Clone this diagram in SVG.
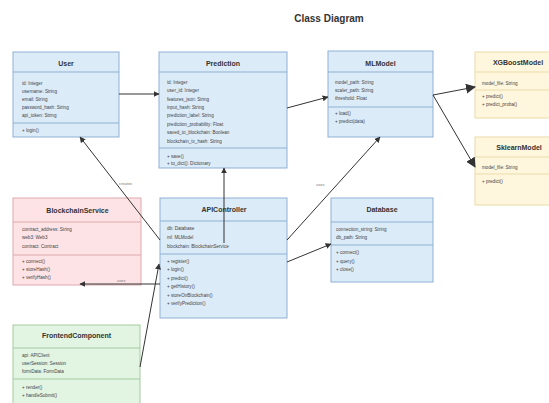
<svg xmlns="http://www.w3.org/2000/svg" width="549" height="403" viewBox="0 0 549 403">
  <defs>
    <marker id="arrow" viewBox="0 0 10 10" refX="9" refY="5" markerWidth="6" markerHeight="6" orient="auto-start-reverse" markerUnits="userSpaceOnUse">
      <path d="M0,0 L10,5 L0,10 Z" fill="#333"/>
    </marker>
    <marker id="arrowBig" viewBox="0 0 10 10" refX="9" refY="5" markerWidth="10" markerHeight="10" orient="auto" markerUnits="userSpaceOnUse">
      <path d="M0,0 L10,5 L0,10 Z" fill="#333"/>
    </marker>
  </defs>
  <style>
    .blue rect { fill: #dcebf8; stroke: #8eb1d4; stroke-width: 1; }
    .blue line { stroke: #8eb1d4; stroke-width: 1; }
    .pink rect { fill: #fde3e5; stroke: #dba9ad; stroke-width: 1; }
    .pink line { stroke: #dba9ad; stroke-width: 1; }
    .green rect { fill: #e2f4e2; stroke: #a3cba0; stroke-width: 1; }
    .green line { stroke: #a3cba0; stroke-width: 1; }
    .yellow rect { fill: #fef6dd; stroke: #eadca8; stroke-width: 1; }
    .yellow line { stroke: #eadca8; stroke-width: 1; }
    .title { font-family: "Liberation Sans", Arial, sans-serif; font-weight: bold; font-size: 7px; fill: #333; text-anchor: middle; }
    .item { font-family: "Liberation Sans", Arial, sans-serif; font-size: 4.6px; fill: #444; }
    .heading { font-family: "Liberation Sans", Arial, sans-serif; font-weight: bold; font-size: 10px; fill: #333; text-anchor: middle; }
    .conn { stroke: #333; stroke-width: 1; fill: none; }
    .lbl { font-family: "Liberation Sans", Arial, sans-serif; font-size: 4px; fill: #777; }
  </style>

  <rect width="549" height="403" fill="#ffffff"/>
  <text class="heading" x="329" y="21.5">Class Diagram</text>

  <!-- User -->
  <g id="user" class="blue">
    <rect x="13" y="52" width="106" height="85"/>
    <line x1="13" y1="72" x2="119" y2="72"/>
    <line x1="13" y1="123" x2="119" y2="123"/>
    <text class="title" x="66" y="65.5">User</text>
    <text class="item" x="22" y="84.6">id: Integer</text>
    <text class="item" x="22" y="92.6">username: String</text>
    <text class="item" x="22" y="100.6">email: String</text>
    <text class="item" x="22" y="108.6">password_hash: String</text>
    <text class="item" x="22" y="116.6">api_token: String</text>
    <text class="item" x="22" y="131.6">+ login()</text>
  </g>

  <!-- Prediction -->
  <g id="prediction" class="blue">
    <rect x="159" y="52" width="128" height="116"/>
    <line x1="159" y1="72" x2="287" y2="72"/>
    <line x1="159" y1="148" x2="287" y2="148"/>
    <text class="title" x="223" y="65.5">Prediction</text>
    <text class="item" x="167" y="83.6">id: Integer</text>
    <text class="item" x="167" y="92">user_id: Integer</text>
    <text class="item" x="167" y="100.5">features_json: String</text>
    <text class="item" x="167" y="108.9">input_hash: String</text>
    <text class="item" x="167" y="117.3">prediction_label: String</text>
    <text class="item" x="167" y="125.7">prediction_probability: Float</text>
    <text class="item" x="167" y="134.2">saved_to_blockchain: Boolean</text>
    <text class="item" x="167" y="142.6">blockchain_tx_hash: String</text>
    <text class="item" x="167" y="157.6">+ save()</text>
    <text class="item" x="167" y="164.8">+ to_dict(): Dictionary</text>
  </g>

  <!-- MLModel -->
  <g id="mlmodel" class="blue">
    <rect x="328" y="51" width="105" height="86"/>
    <line x1="328" y1="72" x2="433" y2="72"/>
    <line x1="328" y1="107" x2="433" y2="107"/>
    <text class="title" x="380.5" y="65.5">MLModel</text>
    <text class="item" x="335" y="83.6">model_path: String</text>
    <text class="item" x="335" y="91.8">scaler_path: String</text>
    <text class="item" x="335" y="100.2">threshold: Float</text>
    <text class="item" x="335" y="114.6">+ load()</text>
    <text class="item" x="335" y="123.4">+ predict(data)</text>
  </g>

  <!-- XGBoostModel -->
  <g id="xgboost" class="yellow">
    <rect x="475" y="52" width="86" height="66"/>
    <line x1="475" y1="72" x2="561" y2="72"/>
    <line x1="475" y1="90" x2="561" y2="90"/>
    <text class="title" x="518" y="64.5">XGBoostModel</text>
    <text class="item" x="482" y="84.6">model_file: String</text>
    <text class="item" x="482" y="97.6">+ predict()</text>
    <text class="item" x="482" y="105.6">+ predict_proba()</text>
  </g>

  <!-- SklearnModel -->
  <g id="sklearn" class="yellow">
    <rect x="475" y="137" width="86" height="68"/>
    <line x1="475" y1="157" x2="561" y2="157"/>
    <line x1="475" y1="174" x2="561" y2="174"/>
    <text class="title" x="519" y="149.5">SklearnModel</text>
    <text class="item" x="482" y="168.6">model_file: String</text>
    <text class="item" x="482" y="182.6">+ predict()</text>
  </g>

  <!-- BlockchainService -->
  <g id="blockchain" class="pink">
    <rect x="13" y="198" width="128" height="87"/>
    <line x1="13" y1="222" x2="141" y2="222"/>
    <line x1="13" y1="255" x2="141" y2="255"/>
    <text class="title" x="77.5" y="212.5">BlockchainService</text>
    <text class="item" x="22" y="230.6">contract_address: String</text>
    <text class="item" x="22" y="239.4">web3: Web3</text>
    <text class="item" x="22" y="247.6">contract: Contract</text>
    <text class="item" x="22" y="262.6">+ connect()</text>
    <text class="item" x="22" y="270.6">+ storeHash()</text>
    <text class="item" x="22" y="278.6">+ verifyHash()</text>
  </g>

  <!-- APIController -->
  <g id="apicontroller" class="blue">
    <rect x="160" y="198" width="127" height="120"/>
    <line x1="160" y1="221" x2="287" y2="221"/>
    <line x1="160" y1="254" x2="287" y2="254"/>
    <text class="title" x="224" y="211.5">APIController</text>
    <text class="item" x="167" y="229.6">db: Database</text>
    <text class="item" x="167" y="238.6">ml: MLModel</text>
    <text class="item" x="167" y="247.6">blockchain: BlockchainService</text>
    <text class="item" x="167" y="262.6">+ register()</text>
    <text class="item" x="167" y="271.1">+ login()</text>
    <text class="item" x="167" y="279.6">+ predict()</text>
    <text class="item" x="167" y="288.1">+ getHistory()</text>
    <text class="item" x="167" y="296.6">+ storeOnBlockchain()</text>
    <text class="item" x="167" y="304.6">+ verifyPrediction()</text>
  </g>

  <!-- Database -->
  <g id="database" class="blue">
    <rect x="331" y="198" width="102" height="84"/>
    <line x1="331" y1="222" x2="433" y2="222"/>
    <line x1="331" y1="245" x2="433" y2="245"/>
    <text class="title" x="382" y="211.5">Database</text>
    <text class="item" x="336" y="230.6">connection_string: String</text>
    <text class="item" x="336" y="238.6">db_path: String</text>
    <text class="item" x="336" y="253.6">+ connect()</text>
    <text class="item" x="336" y="262.6">+ query()</text>
    <text class="item" x="336" y="270.6">+ close()</text>
  </g>

  <!-- FrontendComponent -->
  <g id="frontend" class="green">
    <rect x="13" y="325" width="127" height="90"/>
    <line x1="13" y1="348" x2="140" y2="348"/>
    <line x1="13" y1="379" x2="140" y2="379"/>
    <text class="title" x="76.5" y="337.5">FrontendComponent</text>
    <text class="item" x="22" y="356.6">api: APIClient</text>
    <text class="item" x="22" y="364.8">userSession: Session</text>
    <text class="item" x="22" y="373.4">formData: FormData</text>
    <text class="item" x="22" y="388.6">+ render()</text>
    <text class="item" x="22" y="396.6">+ handleSubmit()</text>
  </g>

  <!-- Connectors -->
  <g id="connectors">
    <line class="conn" x1="119" y1="94" x2="159" y2="94" marker-end="url(#arrow)"/>
    <line class="conn" x1="287" y1="108" x2="328" y2="97" marker-end="url(#arrow)"/>
    <line class="conn" x1="433" y1="95" x2="475" y2="87" marker-end="url(#arrowBig)"/>
    <line class="conn" x1="433" y1="95" x2="475" y2="167" marker-end="url(#arrowBig)"/>
    <line class="conn" x1="160" y1="240" x2="80" y2="137" marker-end="url(#arrow)"/>
    <line class="conn" x1="224" y1="243" x2="224" y2="168" marker-end="url(#arrow)"/>
    <line class="conn" x1="287" y1="240" x2="380" y2="137" marker-end="url(#arrow)"/>
    <line class="conn" x1="287" y1="262" x2="331" y2="244" marker-end="url(#arrow)"/>
    <line class="conn" x1="160" y1="284" x2="80" y2="284" marker-end="url(#arrow)"/>
    <line class="conn" x1="140" y1="367" x2="159" y2="264" marker-end="url(#arrow)"/>
    <text class="lbl" x="119" y="185">creates</text>
    <text class="lbl" x="117" y="282">uses</text>
    <text class="lbl" x="316" y="186">uses</text>
  </g>
</svg>
